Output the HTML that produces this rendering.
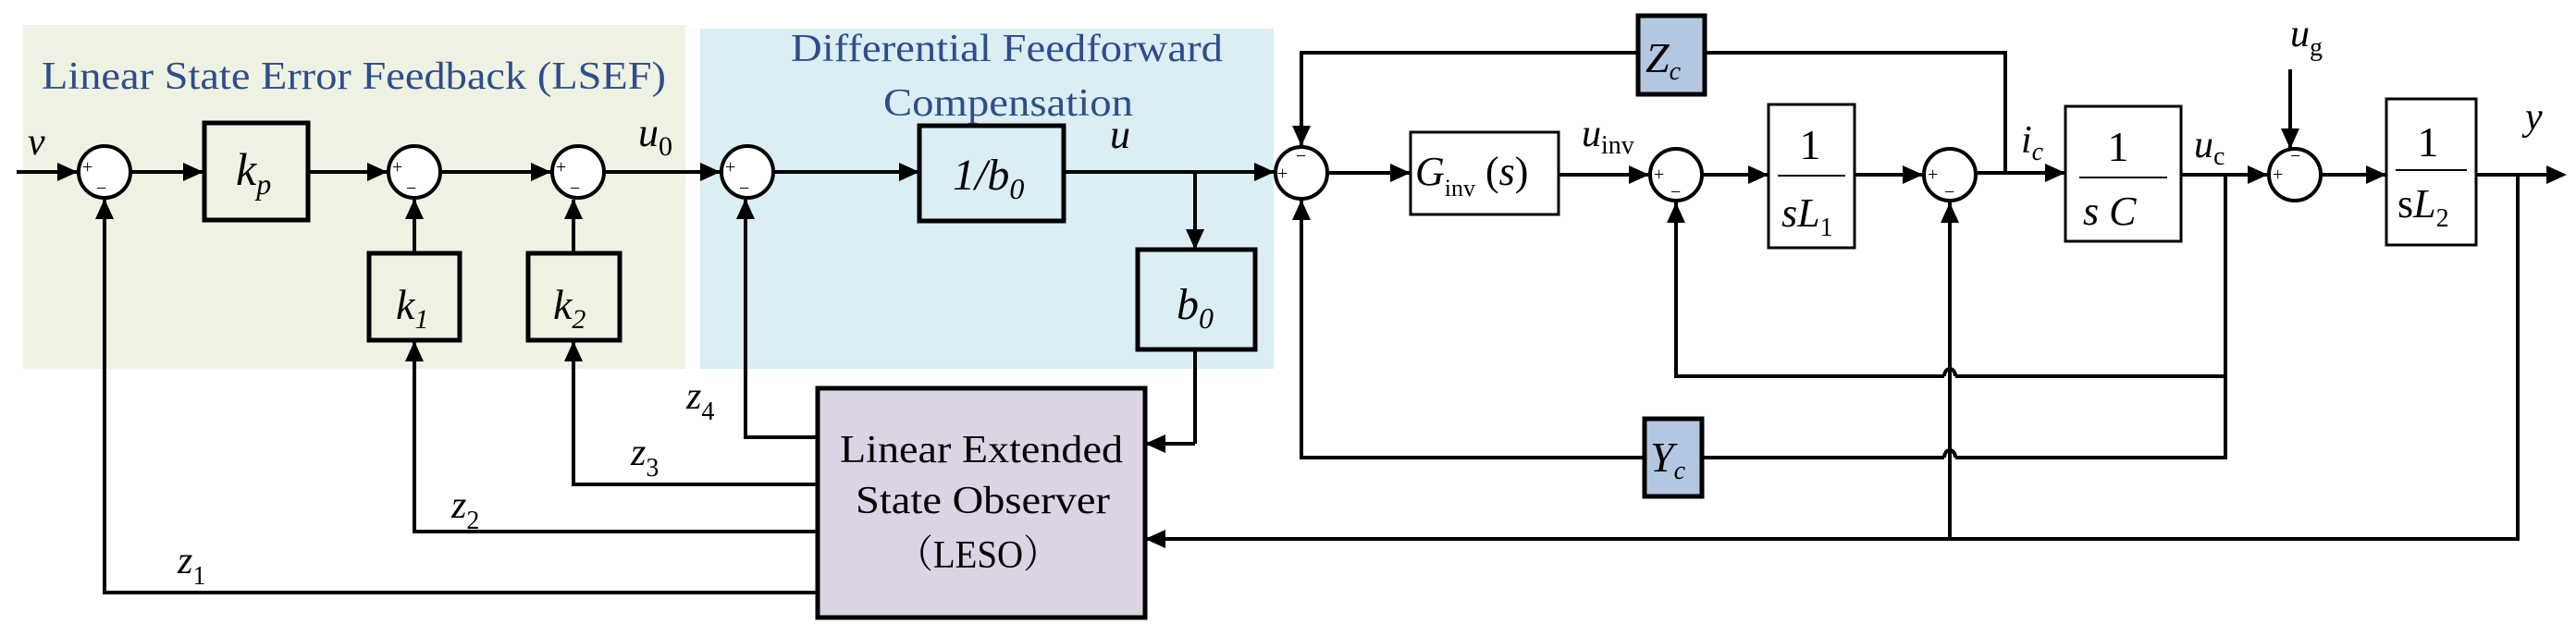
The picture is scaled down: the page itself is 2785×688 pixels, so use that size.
<!DOCTYPE html>
<html><head><meta charset="utf-8"><style>
html,body{margin:0;padding:0;background:#fff}
svg{display:block}
text{font-family:"Liberation Serif",serif}
</style></head><body>
<svg width="2785" height="688" viewBox="0 0 2785 688" xmlns="http://www.w3.org/2000/svg">
<rect x="25" y="27" width="716" height="372" fill="#eef2e3"/>
<rect x="757" y="31" width="620" height="368" fill="#daeef3"/>
<text x="45" y="96" font-size="42" fill="#2f4d8c" textLength="675" lengthAdjust="spacingAndGlyphs">Linear State Error Feedback (LSEF)</text>
<text x="855" y="66" font-size="42" fill="#2f4d8c" textLength="467" lengthAdjust="spacingAndGlyphs">Differential Feedforward</text>
<text x="955" y="125" font-size="42" fill="#2f4d8c" textLength="270" lengthAdjust="spacingAndGlyphs">Compensation</text>

<g stroke="#000" stroke-width="4" fill="none">
<line x1="18" y1="186" x2="84" y2="186"/>
<line x1="142" y1="186" x2="220" y2="186"/>
<line x1="333" y1="186" x2="419" y2="186"/>
<line x1="477" y1="186" x2="596" y2="186"/>
<line x1="654" y1="186" x2="779" y2="186"/>
<line x1="837" y1="186" x2="994" y2="186"/>
<line x1="1150" y1="186" x2="1378" y2="186"/>
<line x1="1292" y1="186" x2="1292" y2="268"/>
<line x1="1292" y1="378" x2="1292" y2="480"/>
<line x1="1292" y1="480" x2="1240" y2="480"/>
<polyline points="884,641 113,641 113,216"/>
<polyline points="884,575 448,575 448,370"/>
<polyline points="884,524 620,524 620,370"/>
<polyline points="884,473 806,473 806,216"/>
<line x1="448" y1="274" x2="448" y2="216"/>
<line x1="620" y1="274" x2="620" y2="216"/>
<line x1="1436" y1="187" x2="1525" y2="187"/>
<line x1="1685" y1="189" x2="1783" y2="189"/>
<line x1="1841" y1="189" x2="1912" y2="189"/>
<line x1="2005" y1="189" x2="2079" y2="189"/>
<line x1="2137" y1="187" x2="2233" y2="187"/>
<line x1="2358" y1="189" x2="2452" y2="189"/>
<line x1="2510" y1="189" x2="2580" y2="189"/>
<line x1="2677" y1="189" x2="2769" y2="189"/>
<polyline points="1771,57 1407,57 1407,157"/>
<polyline points="1843,57 2168,57 2168,187"/>
<line x1="2476" y1="75" x2="2476" y2="160"/>
<polyline points="2722,189 2722,583 1240,583"/>
<polyline points="2406,189 2406,407 2114,407"/>
<path d="M2102,407 A6,8 0 0 1 2114,407"/>
<polyline points="2102,407 1812,407 1812,219"/>
<polyline points="2406,407 2406,495 2114,495"/>
<path d="M2102,495 A6,8 0 0 1 2114,495"/>
<polyline points="2102,495 1840,495"/>
<polyline points="1778,495 1407,495 1407,216"/>
<line x1="2108" y1="583" x2="2108" y2="219"/>
</g>
<g fill="#000">
<polygon points="84,186 62,176 62,196"/>
<polygon points="220,186 198,176 198,196"/>
<polygon points="419,186 397,176 397,196"/>
<polygon points="596,186 574,176 574,196"/>
<polygon points="779,186 757,176 757,196"/>
<polygon points="994,186 972,176 972,196"/>
<polygon points="1378,186 1356,176 1356,196"/>
<polygon points="1292,270 1282,248 1302,248"/>
<polygon points="1238,480 1260,470 1260,490"/>
<polygon points="1238,583 1260,573 1260,593"/>
<polygon points="113,215 103,237 123,237"/>
<polygon points="448,215 438,237 458,237"/>
<polygon points="620,215 610,237 630,237"/>
<polygon points="806,215 796,237 816,237"/>
<polygon points="448,369 438,391 458,391"/>
<polygon points="620,369 610,391 630,391"/>
<polygon points="1525,187 1503,177 1503,197"/>
<polygon points="1783,189 1761,179 1761,199"/>
<polygon points="1912,189 1890,179 1890,199"/>
<polygon points="2079,189 2057,179 2057,199"/>
<polygon points="2233,187 2211,177 2211,197"/>
<polygon points="2452,189 2430,179 2430,199"/>
<polygon points="2580,189 2558,179 2558,199"/>
<polygon points="2775,189 2753,179 2753,199"/>
<polygon points="1407,158 1397,136 1417,136"/>
<polygon points="2476,161 2466,139 2486,139"/>
<polygon points="1407,216 1397,238 1417,238"/>
<polygon points="1812,219 1802,241 1822,241"/>
<polygon points="2108,219 2098,241 2118,241"/>
</g>
<g stroke="#000" stroke-width="4" fill="#fff">
<circle cx="113" cy="186" r="28"/>
<circle cx="448" cy="186" r="28"/>
<circle cx="625" cy="186" r="28"/>
<circle cx="808" cy="186" r="28"/>
<circle cx="1407" cy="187" r="28"/>
<circle cx="1812" cy="189" r="28"/>
<circle cx="2108" cy="189" r="28"/>
<circle cx="2481" cy="189" r="28"/>
</g>
<g font-size="20" fill="#000">
<text x="89" y="187">+</text><text x="104" y="210">−</text>
<text x="424" y="187">+</text><text x="439" y="210">−</text>
<text x="601" y="187">+</text><text x="616" y="210">−</text>
<text x="784" y="187">+</text><text x="799" y="210">−</text>
<text x="1381" y="194">+</text><text x="1401" y="175">−</text>
<text x="1788" y="195">+</text><text x="1806" y="214">−</text>
<text x="2084" y="195">+</text><text x="2102" y="214">−</text>
<text x="2457" y="195">+</text><text x="2476" y="175">−</text>
</g>
<g stroke="#000" stroke-width="5">
<rect x="221" y="133" width="112" height="105" fill="none"/>
<rect x="399" y="274" width="98" height="94" fill="none"/>
<rect x="571" y="274" width="99" height="94" fill="none"/>
<rect x="994" y="136" width="156" height="103" fill="none"/>
<rect x="1230" y="270" width="127" height="108" fill="none"/>
<rect x="884" y="420" width="354" height="248" fill="#dcd4e4"/>
<rect x="1771" y="17" width="72" height="85" fill="#b4c7e0"/>
<rect x="1778" y="453" width="62" height="84" fill="#b4c7e0"/>
</g>
<g stroke="#000" stroke-width="3" fill="#fff">
<rect x="1525" y="143" width="160" height="89"/>
<rect x="1912" y="113" width="93" height="155"/>
<rect x="2233" y="115" width="125" height="146"/>
<rect x="2580" y="107" width="97" height="158"/>
</g>
<g stroke="#000" stroke-width="2">
<line x1="1922" y1="190" x2="1995" y2="190"/>
<line x1="2248" y1="192" x2="2343" y2="192"/>
<line x1="2590" y1="184" x2="2667" y2="184"/>
</g>
<g fill="#000" font-style="italic">
<text x="30" y="167" font-size="42">v</text>
<text x="255" y="200" font-size="50">k<tspan font-size="32" dy="10">p</tspan></text>
<text x="428" y="345" font-size="46">k<tspan font-size="30" dy="10">1</tspan></text>
<text x="598" y="345" font-size="46">k<tspan font-size="30" dy="10">2</tspan></text>
<text x="690" y="158" font-size="44">u<tspan font-style="normal" font-size="30" dy="10">0</tspan></text>
<text x="1030" y="205" font-size="48">1/b<tspan font-size="32" dy="10">0</tspan></text>
<text x="1200" y="160" font-size="44">u</text>
<text x="1272" y="345" font-size="48">b<tspan font-size="32" dy="10">0</tspan></text>
<text x="742" y="442" font-size="42">z<tspan font-style="normal" font-size="28" dy="12">4</tspan></text>
<text x="682" y="503" font-size="42">z<tspan font-style="normal" font-size="28" dy="12">3</tspan></text>
<text x="488" y="560" font-size="42">z<tspan font-style="normal" font-size="28" dy="12">2</tspan></text>
<text x="192" y="620" font-size="42">z<tspan font-style="normal" font-size="28" dy="12">1</tspan></text>
<text x="1779" y="78" font-size="46">Z<tspan font-size="28" dy="8">c</tspan></text>
<text x="1784" y="510" font-size="46">Y<tspan font-size="28" dy="8">c</tspan></text>
<text x="1530" y="200" font-size="44">G<tspan font-style="normal" font-size="26" dy="12">inv</tspan><tspan font-style="normal" dy="-12"> (</tspan>s<tspan font-style="normal">)</tspan></text>
<text x="1710" y="158" font-size="42">u<tspan font-style="normal" font-size="28" dy="8">inv</tspan></text>
<text x="2185" y="165" font-size="42">i<tspan font-size="28" dy="8">c</tspan></text>
<text x="2372" y="170" font-size="42">u<tspan font-style="normal" font-size="28" dy="8">c</tspan></text>
<text x="2476" y="50" font-size="42">u<tspan font-style="normal" font-size="28" dy="10">g</tspan></text>
<text x="2730" y="140" font-size="42">y</text>
<text x="1926" y="245" font-size="44">sL<tspan font-style="normal" font-size="28" dy="10">1</tspan></text>
<text x="2252" y="243" font-size="44">s C</text>
<text x="2592" y="235" font-size="44"><tspan font-style="normal">s</tspan>L<tspan font-style="normal" font-size="28" dy="10">2</tspan></text>
</g>
<g fill="#000" font-size="46" text-anchor="middle">
<text x="1957" y="172">1</text>
<text x="2290" y="174">1</text>
<text x="2625" y="169">1</text>
</g>
<g fill="#000" font-size="42">
<text x="908" y="500" textLength="306" lengthAdjust="spacingAndGlyphs">Linear Extended</text>
<text x="925" y="555" textLength="275" lengthAdjust="spacingAndGlyphs">State Observer</text>
<text x="970" y="614" textLength="175" lengthAdjust="spacingAndGlyphs" style="font-family:'Liberation Serif','Noto Serif CJK SC',serif">（LESO）</text>
</g>
</svg>
</body></html>
